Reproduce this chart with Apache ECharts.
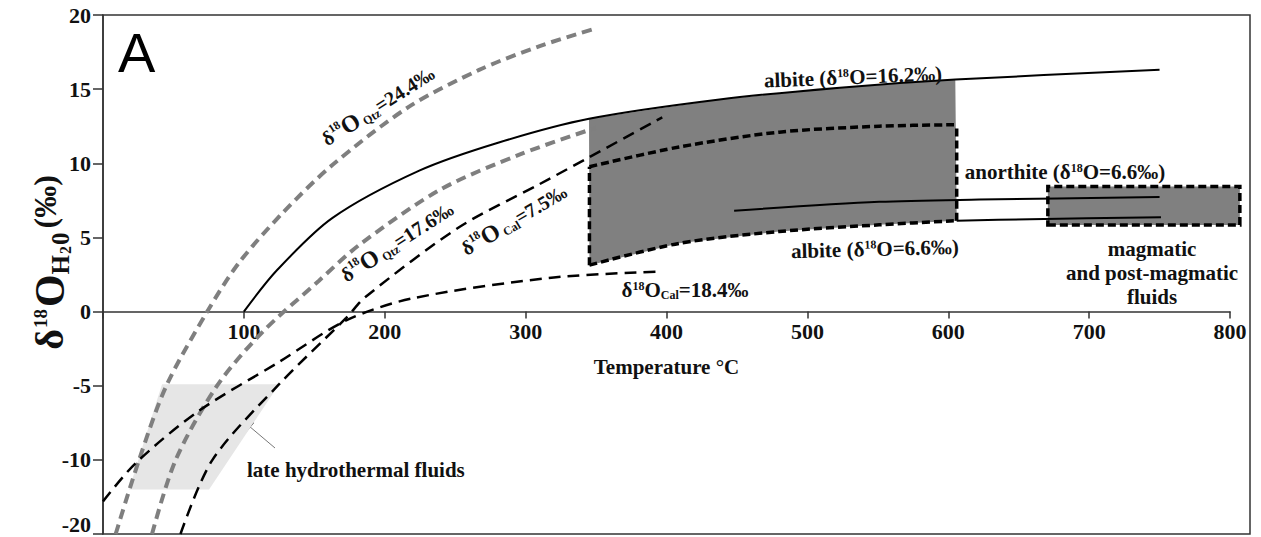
<!DOCTYPE html>
<html>
<head>
<meta charset="utf-8">
<script src="https://cdn.jsdelivr.net/npm/echarts@6/dist/echarts.min.js"></script>
<style>
html, body { margin: 0; padding: 0; background: #fff; }
#chart { width: 1261px; height: 537px; }
</style>
</head>
<body>
<div id="chart"></div>
<script>
// tick labels (the original figure labels its lowest tick "-20")
const xTickLabels = ['', '100', '200', '300', '400', '500', '600', '700', '800']
const yTickLabels = ['{low|-20}', '-10', '-5', '0', '5', '10', '15', '20']

// curves: [temperature °C, δ18O water ‰]
const qtz244 = [[9, -15], [25.6, -10], [45, -5], [74, 0], [96.6, 3.3], [127, 6.6], [163, 9.9], [217, 13.8], [267, 16.3], [310, 17.9], [350, 19.1]]
const qtz176 = [[34.8, -15], [51.6, -10], [81, -5], [113, -1.4], [153.5, 2.1], [182, 4.5], [239, 8.2], [296, 10.6], [350, 12.4]]
const albite162 = [[100, 0], [123.6, 2.8], [162.7, 6.3], [224.5, 9.5], [281, 11.4], [345, 13.0], [437.6, 14.3], [523, 15.1], [605, 15.65], [750, 16.3]]
const cal75 = [[55, -15], [77.7, -10], [125, -4.9], [172.6, -0.43], [186.5, 1.0], [253, 5.7], [310, 8.6], [345, 10.4], [397, 13.1]]
const cal184 = [[0, -12.8], [23.4, -10.2], [68, -6.7], [125, -3.4], [172.6, -0.6], [220, 0.9], [320, 2.3], [397, 2.7]]
const albite66 = [[606, 6.13], [658, 6.23], [751, 6.36]]
const anorthite = [[448, 6.8], [551, 7.4], [622, 7.55], [750, 7.72]]

// feldspar field (dashed box) and fluid fields
const boxUpper = [[345.3, 9.77], [409, 11.1], [480, 12.1], [551, 12.5], [606, 12.6]]
const boxLower = [[345.3, 3.13], [409, 4.6], [480, 5.4], [551, 5.85], [606, 6.13]]
const hydroField = [[41.9, -4.9], [125, -4.9], [75.3, -12], [18.5, -12]]
const magmaticField = [[670.7, 5.84], [807, 5.84], [807, 8.43], [670.7, 8.43]]

const serif = '"Liberation Serif", "Times New Roman", serif'
const F = (size, w) => (w || 'bold') + ' ' + size + 'px ' + serif
const ink = '#111'

// 灰色区域: albite 16.2 上界 + 虚线框下界
const feldsparField = albite162.filter(p => p[0] >= 345 && p[0] <= 605)
    .concat(boxLower.slice().reverse())

const chart = echarts.init(document.getElementById('chart'), null, { renderer: 'svg' })

function polygon(points, style, z) {
    return {
        type: 'custom',
        coordinateSystem: 'cartesian2d',
        data: [[0, 0]],
        silent: true,
        z: z,
        renderItem: function (params, api) {
            return {
                type: 'polygon',
                shape: { points: points.map(p => api.coord(p)) },
                style: style
            }
        }
    }
}

function curve(data, color, width, dash, z) {
    return {
        type: 'line',
        data: data,
        showSymbol: false,
        symbol: 'none',
        smooth: 0.3,
        silent: true,
        z: z || 3,
        lineStyle: { color: color, width: width, type: dash || 'solid', cap: 'butt' }
    }
}

function richFor(size) {
    return {
        n: { font: F(size), fill: ink },
        d: { font: F(size), fill: ink },
        o: { font: F(size + 4), fill: ink },
        sup: { font: F(12), fill: ink, verticalAlign: 'top' },
        sub: { font: F(12), fill: ink, verticalAlign: 'bottom' }
    }
}

function label(x, y, text, rot, extra, size) {
    size = size || 21
    return {
        type: 'text',
        x: x,
        y: y,
        rotation: (rot || 0) * Math.PI / 180,
        silent: true,
        z: 20,
        style: Object.assign({
            text: text,
            rich: richFor(size),
            font: F(size),
            fill: ink,
            align: 'center',
            verticalAlign: 'middle'
        }, extra || {})
    }
}

const axisColor = '#333'
const tickFont = { fontSize: 22, fontWeight: 'bold', fontFamily: serif, color: ink }
const yZeroFromBottom = 537 - (15 + 519 * 20 / 35)

const option = {
    backgroundColor: '#fff',
    animation: false,
    grid: [
        // 数据网格
        { left: 103, right: 31, top: 15, bottom: 3, show: false, containLabel: false, outerBoundsMode: 'none' },
        // 外框
        { left: 103, right: 11, top: 15, bottom: 3, show: true, borderColor: axisColor, borderWidth: 1.5, backgroundColor: 'transparent', containLabel: false, outerBoundsMode: 'none' },
        // 温度轴 (位于 y = 0)
        { left: 103, right: 31, top: 15, bottom: yZeroFromBottom, show: false, containLabel: false, outerBoundsMode: 'none' }
    ],
    xAxis: [
        { gridIndex: 0, type: 'value', min: 0, max: 800, show: false },
        { gridIndex: 1, type: 'value', min: 0, max: 1, show: false },
        {
            gridIndex: 2,
            type: 'value',
            position: 'bottom',
            min: 0,
            max: 800,
            interval: 100,
            axisLine: { onZero: false, lineStyle: { color: axisColor, width: 1.5 } },
            axisTick: { length: 7, lineStyle: { color: axisColor, width: 1.5 } },
            axisLabel: Object.assign({ margin: 9, formatter: (v, i) => xTickLabels[i] }, tickFont),
            splitLine: { show: false },
            name: 'Temperature °C',
            nameLocation: 'middle',
            nameGap: 45,
            nameMoveOverlap: false,
            nameTextStyle: { fontSize: 21, fontWeight: 'bold', fontFamily: serif, color: ink }
        }
    ],
    yAxis: [
        {
            gridIndex: 0,
            type: 'value',
            min: -15,
            max: 20,
            interval: 5,
            axisLine: { show: true, onZero: false, lineStyle: { color: axisColor, width: 1.5 } },
            axisTick: { length: 10, lineStyle: { color: axisColor, width: 1.5 } },
            axisLabel: Object.assign({
                margin: 12,
                formatter: (v, i) => yTickLabels[i],
                rich: { low: { fontSize: 22, fontWeight: 'bold', fontFamily: serif, color: ink, padding: [0, 0, 20, 0] } }
            }, tickFont),
            splitLine: { show: false },
            name: '{d|δ}{sup|18}{o|O}{sub|H}{sub2|2}{sub|0}{par|(‰)}',
            nameLocation: 'middle',
            nameRotate: 90,
            nameGap: 30,
            nameMoveOverlap: false,
            nameTextStyle: {
                fontFamily: serif,
                fontWeight: 'bold',
                color: ink,
                padding: [0, 0, 0, 24],
                rich: {
                    d: { fontSize: 40, fontFamily: serif, fontWeight: 'bold', color: ink, verticalAlign: 'top', lineHeight: 44 },
                    sup: { fontSize: 19, fontFamily: serif, fontWeight: 'bold', color: ink, verticalAlign: 'top', lineHeight: 22, padding: [2, 2, 0, 1] },
                    o: { fontSize: 42, fontFamily: serif, fontWeight: 'bold', color: ink, verticalAlign: 'top', lineHeight: 44 },
                    sub: { fontSize: 25, fontFamily: serif, fontWeight: 'bold', color: ink, verticalAlign: 'bottom', lineHeight: 25, padding: [36, 0, 0, 0] },
                    sub2: { fontSize: 16, fontFamily: serif, fontWeight: 'bold', color: ink, verticalAlign: 'bottom', lineHeight: 16, padding: [0, 1, 0, 1] },
                    par: { fontSize: 32, fontFamily: serif, fontWeight: 'bold', color: ink, verticalAlign: 'top', lineHeight: 40, padding: [0, 0, 0, 4] }
                }
            }
        },
        { gridIndex: 1, type: 'value', min: 0, max: 1, show: false },
        { gridIndex: 2, type: 'value', min: 0, max: 1, show: false }
    ],
    series: [
        polygon(hydroField, { fill: '#e6e6e6' }, 1),
        polygon(feldsparField, { fill: '#808080' }, 1),
        polygon(magmaticField, { fill: '#808080', stroke: '#000', lineWidth: 3.5, lineDash: [8, 4] }, 1),
        curve(boxUpper, '#000', 3.5, [8, 4], 4),
        curve(boxLower, '#000', 3.5, [8, 4], 4),
        curve([boxLower[0], boxUpper[0]], '#000', 3.5, [8, 4], 4),
        curve([boxLower[boxLower.length - 1], boxUpper[boxUpper.length - 1]], '#000', 3.5, [8, 4], 4),
        curve(qtz244, '#7f7f7f', 4, [10, 6]),
        curve(qtz176, '#7f7f7f', 4, [10, 6]),
        curve(cal75, '#000', 2.5, [12, 7]),
        curve(cal184, '#000', 2.5, [12, 7]),
        curve(albite162, '#000', 2),
        curve(albite66, '#000', 2),
        curve(anorthite, '#000', 2)
    ],
    graphic: [
        { type: 'text', x: 118, y: 52, silent: true, style: { text: 'A', font: 'normal 56px "Liberation Sans", Arial, sans-serif', fill: '#000', align: 'left', verticalAlign: 'middle' } },
        label(378, 106, '{d|δ}{sup|18}{o|O}{sub| Qtz}{n|=24.4‰}', 32.4, null, 20),
        label(397, 242, '{d|δ}{sup|18}{o|O}{sub| Qtz}{n|=17.6‰}', 32.7, null, 20),
        label(514, 220, '{d|δ}{sup|18}{o|O}{sub| Cal}{n|=7.5‰}', 30.5, null, 20),
        label(685, 290, '{d|δ}{sup|18}{n|O}{sub|Cal}{n|=18.4‰}', 0),
        label(853, 77, '{n|albite (δ}{sup|18}{n|O=16.2‰)}', 2.3),
        label(875, 249, '{n|albite (δ}{sup|18}{n|O=6.6‰)}', 1.5),
        label(1065, 172, '{n|anorthite (δ}{sup|18}{n|O=6.6‰)}', 0),
        label(1152, 273, 'magmatic\nand post-magmatic\nfluids', 0, { rich: null, lineHeight: 24 }),
        label(247, 470, 'late hydrothermal fluids', 0, { rich: null, align: 'left' }),
        { type: 'line', silent: true, shape: { x1: 275, y1: 448, x2: 249, y2: 426 }, style: { stroke: '#777', lineWidth: 1 } },
        { type: 'polygon', silent: true, shape: { points: [[238, 417], [254.1, 422.7], [246.5, 431.9]] }, style: { fill: '#000' } }
    ]
}

chart.setOption(option)
</script>
</body>
</html>
